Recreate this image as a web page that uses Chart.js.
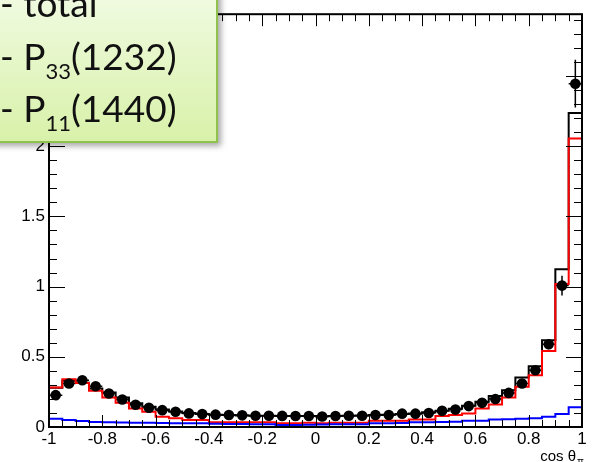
<!DOCTYPE html>
<html>
<head>
<meta charset="utf-8">
<script src="https://cdn.jsdelivr.net/npm/chart.js@4.4.0/dist/chart.umd.min.js"></script>
<style>
  html, body { margin: 0; padding: 0; background: #fff; }
  #wrap { position: relative; width: 596px; height: 462px; overflow: hidden; }
  #c { position: absolute; left: 0; top: 0; }
  #box {
    position: absolute; left: -10px; top: -10px; width: 226px; height: 151px;
    background: linear-gradient(#f1fbe3, #d8f1a9);
    border-right: 2px solid #8fc24c; border-bottom: 2px solid #8fc24c;
    box-shadow: 3px 3px 6px rgba(0,0,0,0.35);
    font-family: Lato, "Open Sans", sans-serif; font-size: 37px; color: #111;
  }
  .row { position: absolute; left: 10px; white-space: nowrap; line-height: 1; }
  .row sub { font-size: 22px; vertical-align: -9px; line-height: 0; }
</style>
</head>
<body>
<div id="wrap">
  <canvas id="c" width="596" height="462"></canvas>
  <div id="box">
    <div class="row" style="top:-6px">- total</div>
    <div class="row" style="top:47px">- P<sub>33</sub>(1232)</div>
    <div class="row" style="top:99px">- P<sub>11</sub>(1440)</div>
  </div>
</div>
<script>
// bin edges of cos theta (40 bins)
const binEdges = [-1, -0.95, -0.9, -0.85, -0.8, -0.75, -0.7, -0.65, -0.6, -0.55,
  -0.5, -0.45, -0.4, -0.35, -0.3, -0.25, -0.2, -0.15, -0.1, -0.05,
  0, 0.05, 0.1, 0.15, 0.2, 0.25, 0.3, 0.35, 0.4, 0.45,
  0.5, 0.55, 0.6, 0.65, 0.7, 0.75, 0.8, 0.85, 0.9, 0.95, 1];

const totalHist = [0.28, 0.33, 0.315, 0.275, 0.245, 0.21, 0.17, 0.145, 0.125, 0.11,
  0.1, 0.093, 0.088, 0.085, 0.082, 0.08, 0.08, 0.079, 0.078, 0.078,
  0.077, 0.078, 0.08, 0.082, 0.085, 0.088, 0.092, 0.097, 0.105, 0.115,
  0.13, 0.152, 0.18, 0.22, 0.262, 0.352, 0.433, 0.617, 1.123, 2.236];

const p33Hist = [0.281, 0.34, 0.314, 0.258, 0.21, 0.172, 0.132, 0.109, 0.073, 0.062,
  0.05, 0.05, 0.033, 0.033, 0.033, 0.033, 0.033, 0.026, 0.026, 0.03,
  0.026, 0.03, 0.03, 0.03, 0.045, 0.045, 0.045, 0.054, 0.054, 0.078,
  0.085, 0.097, 0.132, 0.161, 0.21, 0.286, 0.369, 0.541, 1.019, 2.055];

const p11Hist = [0.059, 0.05, 0.042, 0.035, 0.033, 0.032, 0.03, 0.03, 0.028, 0.026,
  0.026, 0.026, 0.024, 0.022, 0.022, 0.02, 0.02, 0.015, 0.015, 0.016,
  0.018, 0.019, 0.019, 0.02, 0.026, 0.026, 0.028, 0.033, 0.034, 0.036,
  0.038, 0.045, 0.045, 0.054, 0.056, 0.059, 0.063, 0.073, 0.092, 0.14];

const dataPts = [0.227, 0.31, 0.333, 0.29, 0.239, 0.196, 0.158, 0.137, 0.12, 0.109,
  0.097, 0.092, 0.088, 0.085, 0.083, 0.08, 0.08, 0.079, 0.078, 0.078,
  0.075, 0.078, 0.08, 0.08, 0.085, 0.085, 0.095, 0.095, 0.1, 0.115,
  0.125, 0.149, 0.172, 0.199, 0.243, 0.31, 0.404, 0.589, 1.007, 2.445];

const dataErr = [0.015, 0.018, 0.018, 0.017, 0.015, 0.014, 0.012, 0.011, 0.01, 0.01,
  0.01, 0.01, 0.009, 0.009, 0.009, 0.009, 0.009, 0.009, 0.009, 0.009,
  0.009, 0.009, 0.009, 0.009, 0.01, 0.01, 0.01, 0.01, 0.011, 0.012,
  0.013, 0.015, 0.016, 0.018, 0.02, 0.024, 0.028, 0.035, 0.07, 0.17];

const xTickLabels = [-1, -0.8, -0.6, -0.4, -0.2, 0, 0.2, 0.4, 0.6, 0.8, 1];
const yTickLabels = [0, 0.5, 1, 1.5, 2, 2.5];

// histogram as step line through the bin edges
const stepPts = h => binEdges.map((e, i) => ({x: e, y: h[Math.min(i, h.length - 1)]}));
const dots = dataPts.map((v, i) => ({x: (binEdges[i] + binEdges[i + 1]) / 2, y: v}));

const tickFont = {family: '"Liberation Sans", Arial, sans-serif', size: 17};

// ROOT style frame: inward ticks on all four sides, error bars, axis title
const rootFrame = {
  id: 'rootFrame',
  beforeDatasetsDraw(chart) {
    const ctx = chart.ctx, xs = chart.scales.x, ys = chart.scales.y;
    ctx.save();
    ctx.strokeStyle = '#000';
    ctx.lineWidth = 1.5;
    dataPts.forEach((v, i) => {
      const px = xs.getPixelForValue(dots[i].x);
      ctx.beginPath();
      ctx.moveTo(px, ys.getPixelForValue(v - dataErr[i]));
      ctx.lineTo(px, ys.getPixelForValue(v + dataErr[i]));
      ctx.moveTo(xs.getPixelForValue(binEdges[i]), ys.getPixelForValue(v));
      ctx.lineTo(xs.getPixelForValue(binEdges[i + 1]), ys.getPixelForValue(v));
      ctx.stroke();
    });
    ctx.restore();
  },
  afterDraw(chart) {
    const ctx = chart.ctx, a = chart.chartArea, xs = chart.scales.x, ys = chart.scales.y;
    ctx.save();
    ctx.strokeStyle = '#000';
    ctx.lineWidth = 1;
    ctx.beginPath();
    // minor x ticks every bin, major every 0.2
    binEdges.forEach(v => {
      const px = Math.round(xs.getPixelForValue(v)) + 0.5;
      const major = xTickLabels.some(t => Math.abs(t - v) < 1e-6);
      const len = major ? 12 : 7;
      ctx.moveTo(px, a.bottom); ctx.lineTo(px, a.bottom - len);
      ctx.moveTo(px, a.top); ctx.lineTo(px, a.top + len);
    });
    // y ticks: minor every 0.1, major every 0.5
    for (let k = 0; k <= 29; k++) {
      const v = k / 10;
      const py = Math.round(ys.getPixelForValue(v)) + 0.5;
      const len = k % 5 === 0 ? 16 : 8;
      ctx.moveTo(a.left, py); ctx.lineTo(a.left + len, py);
      ctx.moveTo(a.right, py); ctx.lineTo(a.right - len, py);
    }
    ctx.stroke();
    ctx.lineWidth = 2;
    ctx.strokeRect(a.left, a.top, a.right - a.left, a.bottom - a.top);
    // axis title
    ctx.fillStyle = '#000';
    ctx.font = '15px "Liberation Sans", Arial, sans-serif';
    ctx.textAlign = 'right';
    ctx.textBaseline = 'alphabetic';
    ctx.fillText('cos θ', 576, 461);
    ctx.font = '10px "Liberation Sans", Arial, sans-serif';
    ctx.textAlign = 'left';
    ctx.fillText('π', 577, 465);
    ctx.restore();
  }
};

new Chart(document.getElementById('c'), {
  type: 'line',
  data: {
    datasets: [
      {label: 'data', type: 'scatter', data: dots, pointRadius: 5.3, pointBackgroundColor: '#000',
        pointBorderWidth: 0, showLine: false, order: 0},
      {label: 'P11(1440)', data: stepPts(p11Hist), borderColor: '#0000ff', borderWidth: 2,
        stepped: true, pointRadius: 0, fill: false, order: 1},
      {label: 'P33(1232)', data: stepPts(p33Hist), borderColor: '#ff0000', borderWidth: 2,
        stepped: true, pointRadius: 0, fill: false, order: 2},
      {label: 'total', data: stepPts(totalHist), borderColor: '#000000', borderWidth: 2,
        stepped: true, pointRadius: 0, fill: false, order: 3}
    ]
  },
  options: {
    responsive: false,
    animation: false,
    layout: {padding: {top: 13, right: 14, left: 0, bottom: 0}},
    plugins: {legend: {display: false}, tooltip: {enabled: false}},
    scales: {
      x: {
        type: 'linear', min: -1, max: 1,
        grid: {display: false, drawTicks: false},
        border: {display: false},
        afterBuildTicks: s => { s.ticks = xTickLabels.map(v => ({value: v})); },
        afterFit: s => { s.height = 35; },
        ticks: {autoSkip: false, maxRotation: 0, padding: 2, color: '#000', font: tickFont,
          callback: v => String(v)}
      },
      y: {
        type: 'linear', min: 0, max: 2.94,
        grid: {display: false, drawTicks: false},
        border: {display: false},
        afterBuildTicks: s => { s.ticks = yTickLabels.map(v => ({value: v})); },
        afterFit: s => { s.width = 49; },
        ticks: {padding: 4, color: '#000', font: tickFont, callback: v => String(v)}
      }
    }
  },
  plugins: [rootFrame]
});
</script>
</body>
</html>
